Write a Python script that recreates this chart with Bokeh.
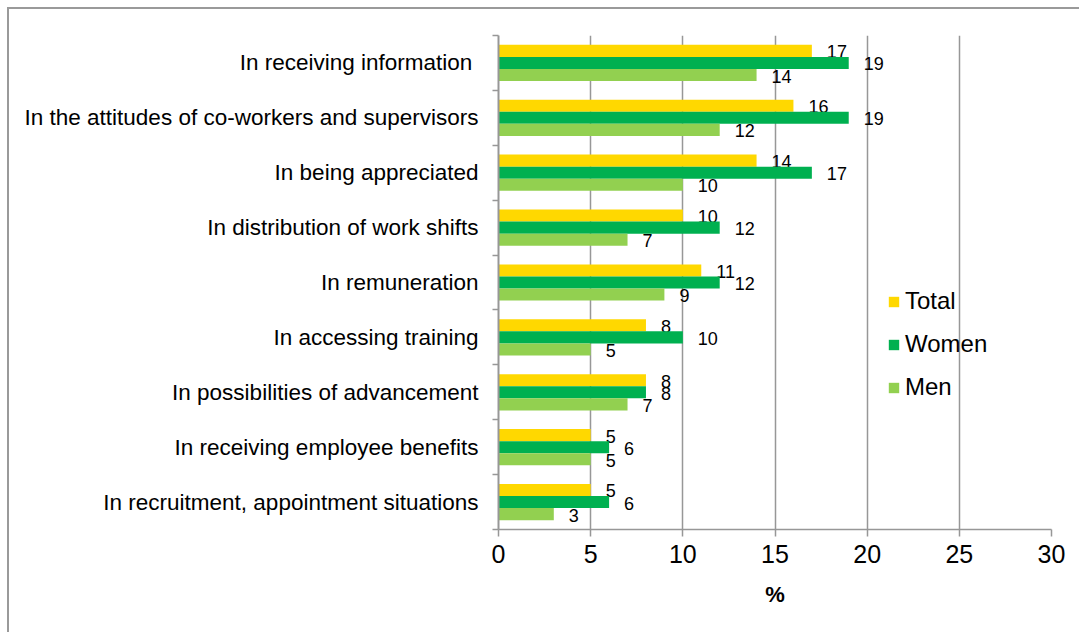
from bokeh.plotting import figure
from bokeh.models import (Range1d, LinearAxis, FixedTicker,
                          CustomJSTickFormatter, ColumnDataSource, Legend, LegendItem)
from bokeh.transform import dodge
from bokeh.embed import file_html
from bokeh.resources import INLINE
from bokeh.core.properties import value

categories = [
    "In receiving information\u00a0",
    "In the attitudes of co-workers and supervisors",
    "In being appreciated",
    "In distribution of work shifts",
    "In remuneration",
    "In accessing training",
    "In possibilities of advancement",
    "In receiving employee benefits",
    "In recruitment, appointment situations",
]
total = [17, 16, 14, 10, 11, 8, 8, 5, 5]
women = [19, 19, 17, 12, 12, 10, 8, 6, 6]
men = [14, 12, 10, 7, 9, 5, 7, 5, 3]
series_names = ["Total", "Women", "Men"]
x_ticks = [0, 5, 10, 15, 20, 25, 30]

colors = ["#FFD800", "#00B050", "#92D050"]
FONT = "Liberation Sans"
GRAY = "#979797"

n = len(categories)
# category slot centres, top category at the top
pos = [n - 1 - i + 0.5 for i in range(n)]

src = ColumnDataSource(dict(
    cat=categories, pos=pos,
    total=total, women=women, men=men,
    total_lbl=[str(v) for v in total],
    women_lbl=[str(v) for v in women],
    men_lbl=[str(v) for v in men],
))

p = figure(width=1072, height=625,
           y_range=Range1d(0, n),
           x_range=Range1d(0, 30),
           output_backend="svg", toolbar_location=None,
           y_axis_location=None,
           min_border_left=489, min_border_top=26,
           min_border_right=30, min_border_bottom=105)
p.margin = (7, 0, 0, 7)
p.styles = {"border-top": "2px solid #9a9a9a", "border-left": "2px solid #9a9a9a"}
p.outline_line_color = None
p.background_fill_color = "white"
p.border_fill_color = "white"

for g in p.grid:
    if g.dimension == 1:
        g.visible = False

p.xgrid.ticker = FixedTicker(ticks=x_ticks)
p.xgrid.grid_line_color = GRAY
p.xgrid.grid_line_width = 1.5

xa = p.xaxis[0]
xa.ticker = FixedTicker(ticks=x_ticks)
xa.axis_line_color = GRAY
xa.axis_line_width = 1.5
xa.major_tick_line_color = GRAY
xa.major_tick_line_width = 1.5
xa.major_tick_out = 7
xa.major_tick_in = 0
xa.minor_tick_line_color = None
xa.major_label_text_font = FONT
xa.major_label_text_font_size = "25px"
xa.major_label_text_color = "black"
xa.major_label_standoff = 8
xa.axis_label = "%"
xa.axis_label_text_font = FONT
xa.axis_label_text_font_size = "22px"
xa.axis_label_text_font_style = "bold"
xa.axis_label_text_color = "black"
xa.axis_label_standoff = 16

# boundary ticks axis (category separators)
baxis = LinearAxis(ticker=FixedTicker(ticks=list(range(n + 1))),
                   formatter=CustomJSTickFormatter(code="return ''"),
                   major_tick_out=6, major_tick_in=0,
                   minor_tick_line_color=None,
                   axis_line_color=GRAY, axis_line_width=2,
                   major_tick_line_color=GRAY, major_tick_line_width=1.5,
                   major_label_standoff=0)
p.add_layout(baxis, "left")

caxis = LinearAxis(ticker=FixedTicker(ticks=pos),
                   formatter=CustomJSTickFormatter(
                       args=dict(names=categories, n=n),
                       code="const i = Math.round(n - 0.5 - tick); return names[i] ?? '';"),
                   major_tick_line_color=None, minor_tick_line_color=None,
                   axis_line_color=None,
                   major_label_text_font=FONT,
                   major_label_text_font_size="22.5px",
                   major_label_text_color="black",
                   major_label_standoff=8)
p.add_layout(caxis, "left")

offsets = [0.22, 0.0, -0.22]
cols = ["total", "women", "men"]
renderers = []
for col, off, color in zip(cols, offsets, colors):
    r = p.hbar(y=dodge("pos", off), left=0, right=col, height=0.22,
               fill_color=color, line_color=None, source=src)
    renderers.append(r)
    p.text(x=col, y=dodge("pos", off), text=col + "_lbl", source=src,
           x_offset=15, y_offset=1, text_align="left", text_baseline="middle",
           text_font=value(FONT), text_font_size="18px", text_color="black")

legend = Legend(items=[LegendItem(label=nm, renderers=[r]) for nm, r in zip(series_names, renderers)],
                location=(389, 128), glyph_width=13, glyph_height=13,
                label_text_font=FONT, label_text_font_size="24px", label_text_color="black",
                spacing=15, padding=0, margin=0, label_standoff=5,
                border_line_color=None, background_fill_alpha=0)
p.add_layout(legend, "center")

open("out.html", "w").write(file_html(p, INLINE))
